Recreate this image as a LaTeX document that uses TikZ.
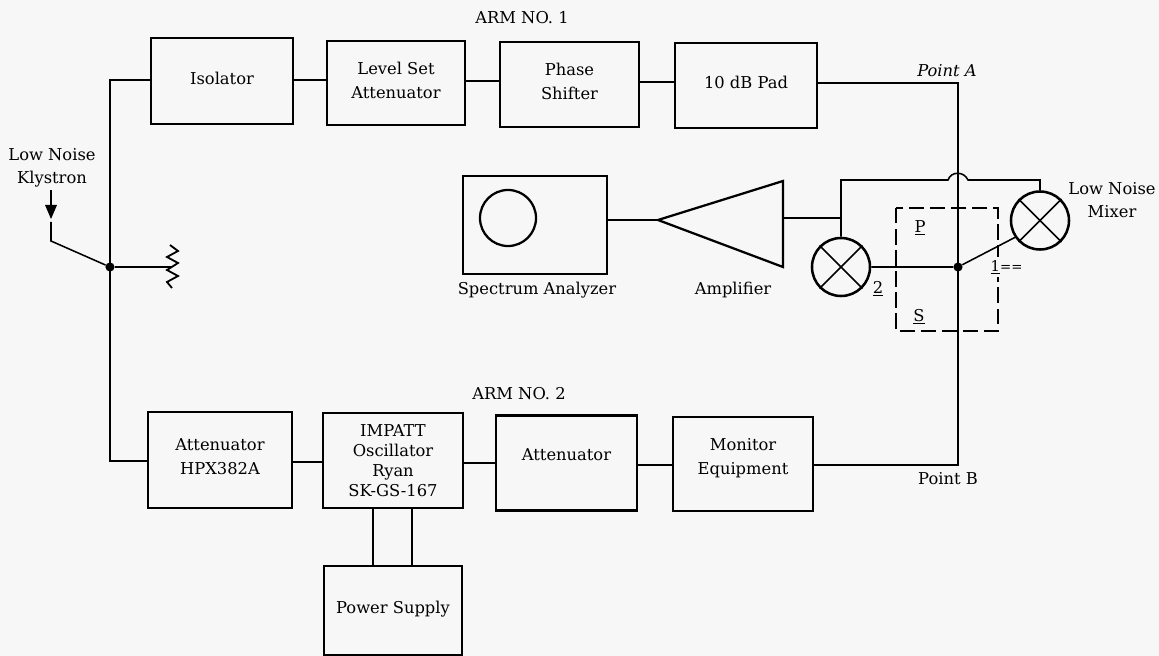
\documentclass[tikz,border=0pt]{standalone}
\usepackage{fontspec}
\setmainfont{DejaVu Serif}
\tikzset{
  blockbox/.style={draw,line width=1.9pt,align=center,inner sep=0pt,text depth=4pt,font=\fontsize{11.6}{17}\selectfont},
  mixer/.style={draw,circle,line width=1.8pt,minimum size=1.45cm,inner sep=0pt},
  wire/.style={line width=1.1pt},
  junction/.style={circle,fill=black,inner sep=0pt,minimum size=6.5pt},
  caption/.style={inner sep=0pt,align=center,font=\fontsize{11.6}{16}\selectfont}
}
\begin{document}
\begin{tikzpicture}[x=0.025cm,y=-0.025cm]
\fill[fill=black!3] (0,0) rectangle (1159,656);
\useasboundingbox (0,0) rectangle (1159,656);

\node[blockbox,minimum width=3.55cm,minimum height=2.15cm] (iso) at (222,81) {Isolator};
\node[blockbox,minimum width=3.45cm,minimum height=2.1cm] (level) at (396,83) {Level Set\\Attenuator};
\node[blockbox,minimum width=3.475cm,minimum height=2.125cm] (phase) at (569.5,84.5) {Phase\\Shifter};
\node[blockbox,minimum width=3.55cm,minimum height=2.125cm] (pad) at (746,85.5) {10 dB Pad};

\node[blockbox,minimum width=3.6cm,minimum height=2.4cm,text depth=5pt] (attb) at (220,460) {Attenuator\\HPX382A};
\node[blockbox,minimum width=3.5cm,minimum height=2.375cm,text depth=0pt,font=\fontsize{11.6}{14.4}\selectfont] (impatt) at (393,460.5) {IMPATT\\Oscillator\\Ryan\\SK-GS-167};
\node[blockbox,minimum width=3.525cm,minimum height=2.375cm,text depth=11.5pt] (attc) at (566.5,463) {Attenuator};
\node[blockbox,minimum width=3.5cm,minimum height=2.35cm,text depth=11pt] (monitor) at (743,464) {Monitor\\Equipment};
\node[blockbox,minimum width=3.45cm,minimum height=2.225cm] (power) at (393,610.5) {Power Supply};

\node[blockbox,minimum width=3.6cm,minimum height=2.45cm] (spec) at (535,225) {};
\node[draw,circle,line width=1.6pt,minimum size=1.4cm,inner sep=0pt] (dial) at (508,218) {};

\node[mixer] (mixb) at (841,267) {};
\node[mixer] (mixa) at (1040,220.5) {};
\draw[wire] (mixb.45) -- (mixb.225);
\draw[wire] (mixb.135) -- (mixb.315);
\draw[wire] (mixa.45) -- (mixa.225);
\draw[wire] (mixa.135) -- (mixa.315);

\coordinate (ampt) at (783,181);
\coordinate (ampb) at (783,267);
\coordinate (ampl) at (658,220);
\coordinate (ampr) at (783,218);
\draw[line width=1.6pt] (ampt) -- (ampl) -- (ampb) -- cycle;

\node[junction] (jl) at (110,267) {};
\node[junction] (jr) at (958,267) {};
\coordinate (ptA) at (958,83);
\coordinate (ptB) at (958,465);
\coordinate (tl) at (110,80);
\coordinate (bl) at (110,461);
\coordinate (ampj) at (841,218);
\coordinate (topl) at (841,180);
\coordinate (topr) at (1040,180);
\coordinate (wa) at (0,81);
\coordinate (wb) at (0,82);
\coordinate (wc) at (0,462);
\coordinate (wd) at (0,463);

\draw[wire] (iso.west |- tl) -- (tl) -- (bl) -- (attb.west |- bl);
\draw[wire] (iso.east |- tl) -- (level.west |- tl);
\draw[wire] (level.east |- wa) -- (phase.west |- wa);
\draw[wire] (phase.east |- wb) -- (pad.west |- wb);
\draw[wire] (pad.east |- ptA) -- (ptA) -- (ptB) -- (monitor.east |- ptB);
\draw[wire] (attb.east |- wc) -- (impatt.west |- wc);
\draw[wire] (impatt.east |- wd) -- (attc.west |- wd);
\draw[wire] (attc.east |- ptB) -- (monitor.west |- ptB);
\draw[wire] (impatt.south -| 373,0) -- (power.north -| 373,0);
\draw[wire] (impatt.south -| 412,0) -- (power.north -| 412,0);

\draw[wire] (ampl) -- (spec.east |- ampl);
\draw[wire] (ampr) -- (ampj);
\draw[wire] (mixb.north) -- (ampj) -- (topl) -- (948,180) .. controls (951,171) and (964,171) .. (968,180) -- (topr) -- (mixa.north);
\draw[wire] (mixb.east) -- (jr) -- (mixa.214);

\coordinate (klys) at (51,190);
\coordinate (klya) at (51,222);
\coordinate (klyb) at (51,241);
\draw[wire] (klys) -- (51,206);
\fill (45,205) -- (57,205) -- (51,219) -- cycle;
\draw[wire] (klya) -- (klyb) -- (jl);
\coordinate (res) at (172,267);
\draw[wire] (jl) -- (res);
\draw[line width=1.3pt] (170,245) -- (178,251) -- (167,257) -- (178,263) -- (167,270) -- (178,276) -- (167,282) -- (172,288);

\draw[line width=1.6pt,dashed,dash pattern=on 11pt off 4pt] (896,208) rectangle (998,331);

\node[caption] (armone) at (522,18) {ARM NO. 1};
\node[caption] (armtwo) at (519,394) {ARM NO. 2};
\node[caption,font=\fontsize{11.6}{16}\selectfont\itshape] (pa) at (947,71) {Point A};
\node[caption] (pb) at (948,479) {Point B};
\node[caption] (speclab) at (537,290) {Spectrum Analyzer};
\node[caption] (amplab) at (733,290) {Amplifier};
\node[caption] (klylab) at (52,168) {Low Noise\\Klystron};
\node[caption] (mixlab) at (1112,200) {Low Noise\\Mixer\hspace{1.5em}};
\node[caption] (two) at (878,289) {\underline{2}};
\node[caption] (ptp) at (920,228) {\underline{P}};
\node[caption] (pts) at (919,317) {\underline{S}};
\node[caption,anchor=west,fill=black!3,inner xsep=1pt,inner ysep=2pt,font=\fontsize{10.5}{12}\selectfont] (one) at (989,267) {\underline{1}{\fontsize{9.5}{11}\selectfont==}};
\end{tikzpicture}
\end{document}
